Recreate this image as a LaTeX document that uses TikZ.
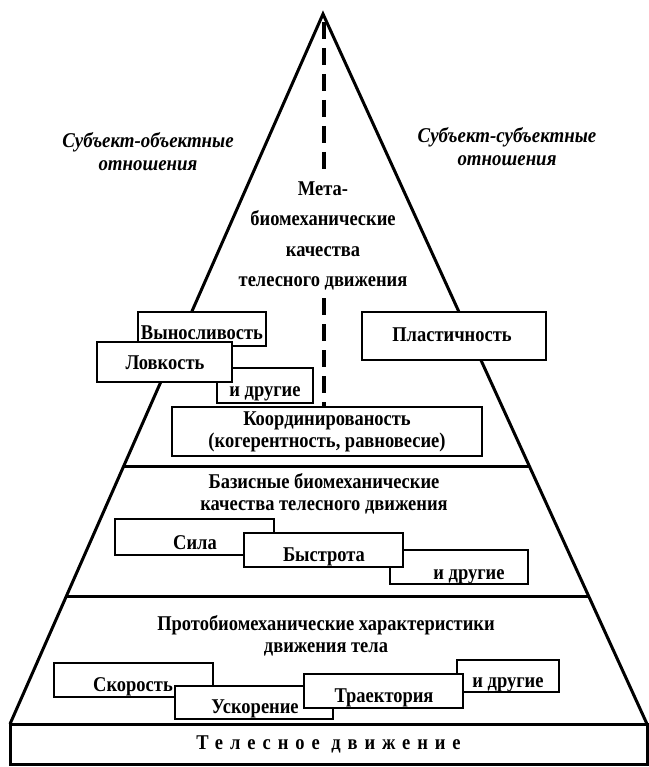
\documentclass[tikz,border=0pt]{standalone}
\usepackage{fontspec}
\setmainfont{Liberation Serif}
\newfontfamily\bxfont[FakeStretch=0.88]{Liberation Serif}
\newfontfamily\itfont[FakeStretch=0.9]{Liberation Serif}
\usetikzlibrary{calc}
\newcommand\mybox[5]{\node[boxx, minimum width={#4-#2}, minimum height={#5-#3}] (#1) at ({(#2+#4)/2},{(#3+#5)/2}) {};}
\begin{document}
\begin{tikzpicture}[x=1pt,y=-1pt,
  edge/.style={line width=3pt, line join=miter},
  boxx/.style={draw, line width=2.4pt, fill=white, inner sep=0pt},
  lbl/.style={font=\bxfont\bfseries\fontsize{21}{22}\selectfont, inner sep=0pt, anchor=base},
  blk/.style={font=\bxfont\bfseries\fontsize{21}{22}\selectfont, inner sep=0pt, align=center},
  ital/.style={font=\itfont\bfseries\itshape\fontsize{21}{23}\selectfont, inner sep=0pt, align=center},
  dashline/.style={line width=3.5pt, dash pattern=on 17pt off 9pt}
]
\useasboundingbox (0,0) rectangle (648,767);
\coordinate (A) at (323,14);
\coordinate (L) at (10,724);
\coordinate (R) at (647,724);
\draw[edge] (L) -- (A) -- (R);
\draw[edge] ($(A)!0.638!(L)$) -- ($(A)!0.638!(R)$);
\draw[edge] ($(A)!0.821!(L)$) -- ($(A)!0.821!(R)$);
% dashed axis
\coordinate (d1) at (324,22);
\coordinate (d2) at (324,176);
\coordinate (d3) at (324,298);
\coordinate (d4) at (324,407);
\draw[dashline] (d1) -- (d2);
\draw[dashline] (d3) -- (d4);
% side labels
\node[ital] (so) at (148,152) {Субъект-объектные\\отношения};
\node[ital] (ss) at (507,147) {Субъект-субъектные\\отношения};
% meta block
\node[blk, font=\bxfont\bfseries\fontsize{21}{30.5}\selectfont] (meta) at (323,236) {Мета-\\биомеханические\\качества\\телесного движения};
% section 1 boxes
\mybox{bV}{138}{312}{266}{346}
\node[lbl] (tV) at (202,339.5) {Выносливость};
\mybox{bD1}{217}{368}{313}{403}
\node[lbl] (tD1) at (265,396.5) {и другие};
\mybox{bL}{97}{342}{232}{382}
\node[lbl] (tL) at (165,369.5) {Ловкость};
\mybox{bK}{172}{407}{482}{456}
\node[blk] (tK) at (327,432) {Координированость\\(когерентность, равновесие)};
\mybox{bP}{362}{312}{546}{360}
\node[lbl] (tP) at (452,341.5) {Пластичность};
% section 2
\node[blk] (base2) at (324,494) {Базисные биомеханические\\качества телесного движения};
\mybox{bS}{115}{519}{274}{555}
\node[lbl] (tS) at (195,549.5) {Сила};
\mybox{bD2}{390}{550}{528}{584}
\node[lbl] (tD2) at (469,579.5) {и другие};
\mybox{bB}{244}{533}{403}{567}
\node[lbl] (tB) at (324,561.5) {Быстрота};
% section 3
\node[blk] (proto) at (326,636) {Протобиомеханические характеристики\\движения тела};
\mybox{bSk}{54}{663}{213}{697}
\node[lbl] (tSk) at (133,691.5) {Скорость};
\mybox{bU}{175}{686}{333}{719}
\node[lbl] (tU) at (255,713.5) {Ускорение};
\mybox{bD3}{457}{660}{559}{692}
\node[lbl] (tD3) at (508,687.5) {и другие};
\mybox{bT}{304}{674}{463}{708}
\node[lbl] (tT) at (384,702.5) {Траектория};
% base
\node[draw, line width=3pt, inner sep=0pt, minimum width=637pt, minimum height=40pt,
      font=\bxfont\bfseries\fontsize{21}{22}\selectfont] (body) at (328.5,744)
      {\addfontfeature{LetterSpace=33}Телесное движение};
\end{tikzpicture}
\end{document}
